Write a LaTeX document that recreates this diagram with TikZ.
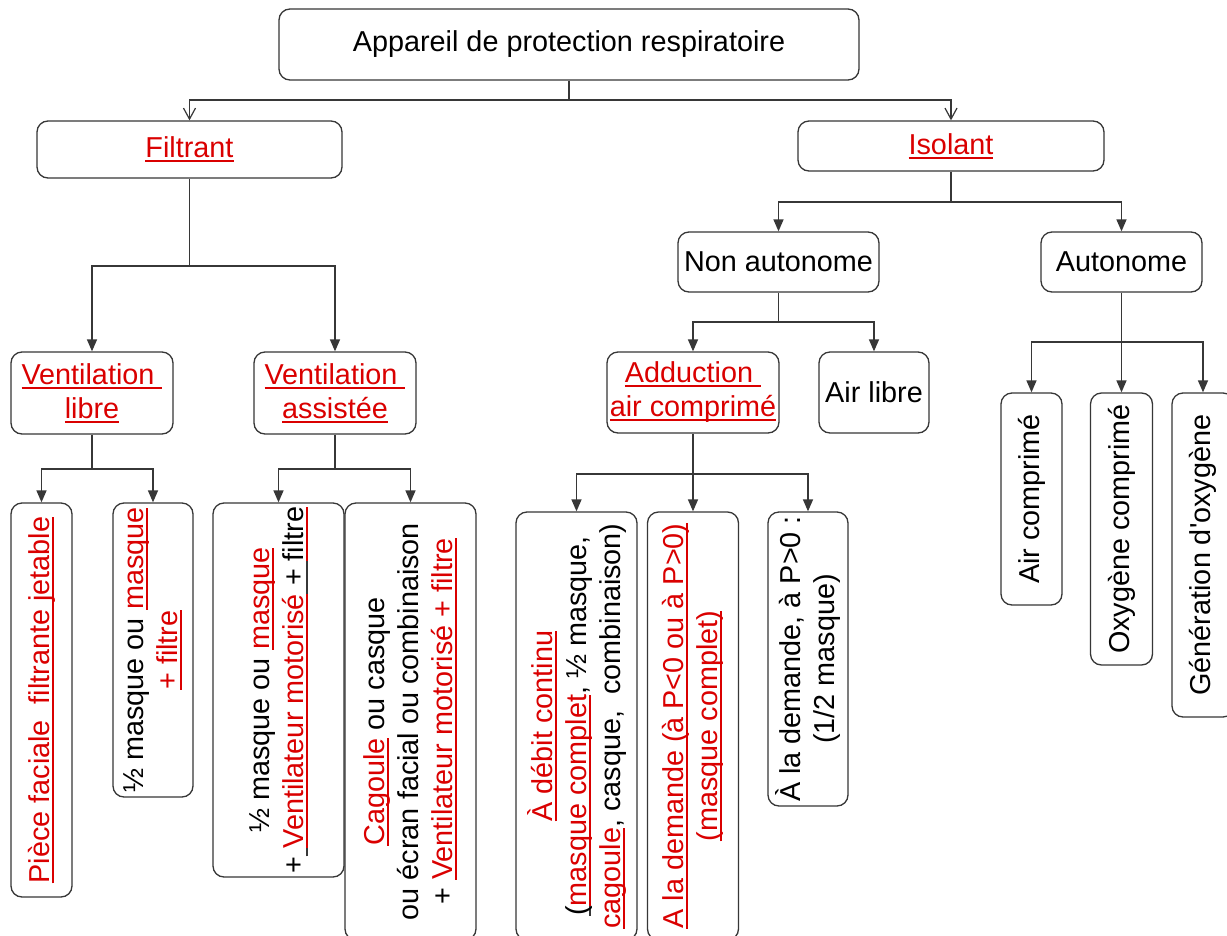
\documentclass[tikz,border=0pt]{standalone}
\usepackage{fontspec}
\setmainfont{Liberation Sans}
\usetikzlibrary{arrows.meta}
\definecolor{rd}{RGB}{218,0,0}
\definecolor{ln}{RGB}{55,55,55}
\newcommand\ulc[2]{\leavevmode\setbox0\hbox{#2}\rlap{\color{#1}\rule[-4.5pt]{\wd0}{2pt}}\box0}
\newcommand\rul[1]{{\color{rd}\ulc{rd}{#1}}}
\begin{document}
\begin{tikzpicture}[x=1pt,y=-1pt,
  font=\fontsize{28.8}{34}\selectfont,
  box/.style={draw=ln, line width=1.3pt, rounded corners=11pt, inner sep=0pt, align=center, fill=white},
  vbox/.style={box, rotate=90},
  conn/.style={draw=ln, line width=1.4pt, -{Triangle[length=12pt,width=10pt]}},
  openconn/.style={draw=ln, line width=1.2pt, -{Straight Barb[length=11pt,width=12pt]}},
  bar/.style={draw=ln, line width=1.4pt}]
\clip (0,0) rectangle (1227,935);
\fill[white] (0,0) rectangle (1227,935);
% unrotated boxes
\node[box, minimum width=580pt, minimum height=71pt] (top) at (569,44.5) {Appareil de protection respiratoire};
\node[box, minimum width=305pt, minimum height=57pt] (filt) at (189.5,149.5) {\rul{Filtrant}};
\node[box, minimum width=306pt, minimum height=50pt] (iso) at (951,146) {\rul{Isolant}};
\node[box, minimum width=162pt, minimum height=82pt] (vlib) at (92,393) {\rul{Ventilation\ }\\\rul{libre}};
\node[box, minimum width=162pt, minimum height=82pt] (vass) at (335,393) {\rul{Ventilation\ }\\\rul{assistée}};
\node[box, minimum width=201pt, minimum height=60pt] (nona) at (778.5,262) {Non autonome};
\node[box, minimum width=161pt, minimum height=60pt] (auto) at (1121.5,262) {Autonome};
\node[box, minimum width=172pt, minimum height=81pt] (addu) at (693,392.5) {\rul{Adduction\ }\\\rul{air comprimé}};
\node[box, minimum width=110pt, minimum height=81pt] (airl) at (874,392.5) {Air libre};
% rotated boxes
\node[vbox, minimum width=394pt, minimum height=61pt] (pfac) at (41.5,700) {\rul{Pièce faciale\ \ filtrante jetable}};
\node[vbox, minimum width=294pt, minimum height=80pt] (dmf) at (153,650) {½ masque ou \rul{masque}\\\rul{+ filtre}};
\node[vbox, minimum width=374pt, minimum height=131pt] (dmv) at (278.5,690) {½ masque ou \rul{masque}\\+\ulc{ln}{\ }\rul{Ventilateur motorisé}\ulc{ln}{ + }\ulc{rd}{filtre}};
\node[vbox, minimum width=437pt, minimum height=131pt] (cag) at (410.5,721.5) {\rul{Cagoule} ou casque\\ou écran facial ou combinaison\\+ \rul{Ventilateur motorisé + filtre}};
\node[vbox, minimum width=428pt, minimum height=121pt] (adc) at (576.5,726) {\rul{À débit continu}\\\ulc{ln}{(}\rul{masque complet}, ½ masque,\\\rul{cagoule}, casque,\ \ combinaison)};
\node[vbox, minimum width=428pt, minimum height=91pt] (adm) at (693,726) {\rul{A la demande (à P<0 ou à P>0)}\\\rul{(masque complet)}};
\node[vbox, minimum width=294pt, minimum height=80pt] (adp) at (808,659) {À la demande, à P>0 :\\(1/2 masque)};
\node[vbox, minimum width=212pt, minimum height=61pt] (airc) at (1031.5,499) {Air comprimé};
\node[vbox, minimum width=272pt, minimum height=62pt] (oxc) at (1121.5,529) {Oxygène comprimé};
\node[vbox, minimum width=324pt, minimum height=62pt] (gen) at (1203,555) {Génération d\textquotesingle oxygène};
% connectors
\coordinate (j0) at (569,100);
\draw[bar] (top.south) -- (j0);
\draw[openconn] (j0) -| (filt.north);
\draw[openconn] (j0) -| (iso.north);
\coordinate (j1) at (189.5,266);
\draw[bar] (filt.south) -- (j1);
\draw[conn] (j1) -| (vlib.north);
\draw[conn] (j1) -| (vass.north);
\coordinate (j2) at (92,469);
\draw[bar] (vlib.south) -- (j2);
\draw[conn] (j2) -| (pfac.east);
\draw[conn] (j2) -| (dmf.east);
\coordinate (j3) at (335,469);
\draw[bar] (vass.south) -- (j3);
\draw[conn] (j3) -| (dmv.east);
\draw[conn] (j3) -| (cag.east);
\coordinate (j4) at (951,202);
\draw[bar] (iso.south) -- (j4);
\draw[conn] (j4) -| (nona.north);
\draw[conn] (j4) -| (auto.north);
\coordinate (j5) at (778.5,322);
\draw[bar] (nona.south) -- (j5);
\draw[conn] (j5) -| (addu.north);
\draw[conn] (j5) -| (airl.north);
\coordinate (j6) at (693,474);
\draw[bar] (addu.south) -- (j6);
\draw[conn] (j6) -| (adc.east);
\draw[conn] (j6) -- (adm.east);
\draw[conn] (j6) -| (adp.east);
\coordinate (j7) at (1121.5,342);
\draw[bar] (auto.south) -- (j7);
\draw[conn] (j7) -| (airc.east);
\draw[conn] (j7) -- (oxc.east);
\draw[conn] (j7) -| (gen.east);
\end{tikzpicture}
\end{document}
